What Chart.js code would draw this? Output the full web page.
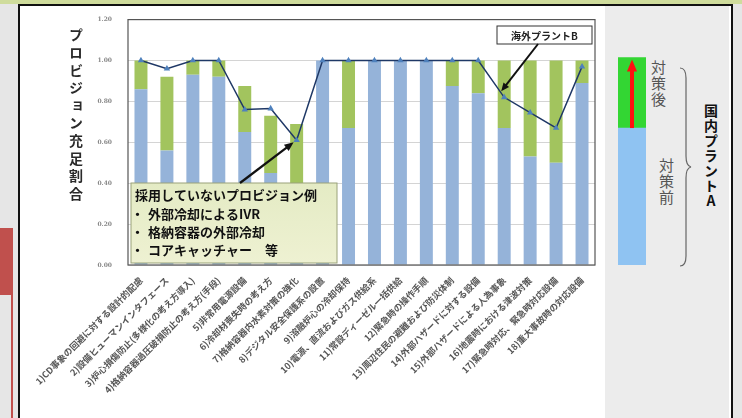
<!DOCTYPE html>
<html>
<head>
<meta charset="utf-8">
<script src="https://cdn.jsdelivr.net/npm/chart.js@4.4.1/dist/chart.umd.min.js"></script>
<style>
  body { margin: 0; width: 742px; height: 418px; background: #e6e6e6; position: relative; overflow: hidden;
         font-family: "Noto Sans CJK JP", "Noto Sans", sans-serif; }
  .abs { position: absolute; }
  #topstrip { left: 0; top: 0; width: 742px; height: 4px; background: #cfdc9c; }
  #frame { left: 18px; top: 4px; width: 711px; height: 420px; border: 2px solid #111; background: #fff; }
  #rightpanel { left: 605px; top: 6px; width: 124px; height: 412px; background: #ececec; }
  #redblock { left: 0; top: 228px; width: 13px; height: 67px; background: #c0504d; }
  #redline { left: 11px; top: 295px; width: 2px; height: 123px; background: #c0504d; }
  .vtext { position: absolute; writing-mode: vertical-rl; text-orientation: upright; white-space: nowrap; }
  #ytitle { left: 66px; top: 28px; font-size: 14px; font-weight: bold; color: #2a2a2a; letter-spacing: 3.6px; }
  #after { left: 648px; top: 60px; font-size: 15px; color: #555; letter-spacing: 1px; }
  #before { left: 656px; top: 158px; font-size: 15px; color: #555; letter-spacing: 1px; }
  #plantA { left: 701px; top: 104px; font-size: 14px; font-weight: bold; color: #111; letter-spacing: 1px; }
</style>
</head>
<body>
<div id="topstrip" class="abs"></div>
<div id="frame" class="abs"></div>
<div id="rightpanel" class="abs"></div>
<div id="redblock" class="abs"></div>
<div id="redline" class="abs"></div>

<canvas id="mainChart" class="abs" width="605" height="418" style="left:0;top:0;"></canvas>
<canvas id="legendChart" class="abs" width="28" height="418" style="left:618px;top:0;"></canvas>

<div id="ytitle" class="vtext">プロビジョン充足割合</div>
<div id="after" class="vtext">対策後</div>
<div id="before" class="vtext">対策前</div>
<div id="plantA" class="vtext">国内プラントA</div>
<svg class="abs" style="left:676px;top:60px;" width="20" height="210">
  <path d="M4 8 Q10 8 10 18 L10 96 Q10 106 15 107 Q10 108 10 118 L10 196 Q10 206 4 206" fill="none" stroke="#666" stroke-width="1.2"/>
</svg>

<script>
// 項目(18項目)
const categories = [
  '1)CD事象の回避に対する設計的配慮',
  '2)設備ヒューマンインタフェース',
  '3)炉心損傷防止(多様化の考え方導入)',
  '4)格納容器過圧破損防止の考え方(手段)',
  '5)非常用電源設備',
  '6)冷却材喪失時の考え方',
  '7)格納容器内水素対策の強化',
  '8)デジタル安全保護系の設置',
  '9)溶融炉心の冷却保持',
  '10)電源、直流およびガス供給系',
  '11)常設ディーゼル一括供給',
  '12)緊急時の操作手順',
  '13)周辺住民の避難および防災体制',
  '14)外部ハザードに対する設備',
  '15)外部ハザードによる人為事象',
  '16)地震時における津波対策',
  '17)緊急時対応、緊急時対応設備',
  '18)重大事故時の対応設備'
];

// 国内プラントA 対策前 / 対策による上積み
const plantABefore = [0.86, 0.56, 0.93, 0.92, 0.65, 0.45, 0.30, 1.00, 0.67, 1.00, 1.00, 1.00, 0.875, 0.84, 0.67, 0.53, 0.50, 0.89];
const plantAGain   = [0.14, 0.36, 0.07, 0.08, 0.225, 0.28, 0.39, 0.00, 0.33, 0.00, 0.00, 0.00, 0.125, 0.16, 0.33, 0.47, 0.50, 0.11];

// 海外プラントB
const plantB = [1.00, 0.96, 1.00, 1.00, 0.76, 0.765, 0.61, 1.00, 1.00, 1.00, 1.00, 1.00, 1.00, 1.00, 0.82, 0.745, 0.67, 0.97];

const yTicks = [0, 0.2, 0.4, 0.6, 0.8, 1.0, 1.2];

// 凡例用の棒
const legendBefore = [0.66];
const legendGain = [0.34];

const JP = '"Noto Sans CJK JP", "Noto Sans", sans-serif';

function drawArrow(ctx, x1, y1, x2, y2, color, width, head) {
    const ang = Math.atan2(y2 - y1, x2 - x1);
    ctx.save();
    ctx.strokeStyle = color;
    ctx.fillStyle = color;
    ctx.lineWidth = width;
    ctx.beginPath();
    ctx.moveTo(x1, y1);
    ctx.lineTo(x2 - Math.cos(ang) * head * 0.8, y2 - Math.sin(ang) * head * 0.8);
    ctx.stroke();
    ctx.beginPath();
    ctx.moveTo(x2, y2);
    ctx.lineTo(x2 - head * Math.cos(ang - 0.4), y2 - head * Math.sin(ang - 0.4));
    ctx.lineTo(x2 - head * Math.cos(ang + 0.4), y2 - head * Math.sin(ang + 0.4));
    ctx.closePath();
    ctx.fill();
    ctx.restore();
}

const annotations = {
    id: 'annotations',
    afterDatasetsDraw(chart) {
        const ctx = chart.ctx;
        const a = chart.chartArea;
        const xs = chart.scales.x, ys = chart.scales.y;

        // 枠線
        ctx.save();
        ctx.strokeStyle = '#555';
        ctx.lineWidth = 1.2;
        ctx.strokeRect(a.left, a.top, a.right - a.left, a.bottom - a.top);
        ctx.restore();

        // 採用していないプロビジョン例
        const bx = a.left + 3, by = 183, bw = 206, bh = 80;
        ctx.save();
        const g = ctx.createLinearGradient(0, by, 0, by + bh);
        g.addColorStop(0, '#e4ebc4');
        g.addColorStop(1, '#eef1d2');
        ctx.fillStyle = g;
        ctx.fillRect(bx, by, bw, bh);
        ctx.strokeStyle = '#9aa27a';
        ctx.lineWidth = 1;
        ctx.strokeRect(bx, by, bw, bh);
        ctx.fillStyle = '#111';
        ctx.font = 'bold 13px ' + JP;
        ctx.textBaseline = 'middle';
        ctx.fillText('採用していないプロビジョン例', bx + 4, by + 12);
        ctx.fillText('・', bx + 0, by + 31);
        ctx.fillText('外部冷却によるIVR', bx + 17, by + 31);
        ctx.fillText('・', bx + 0, by + 49);
        ctx.fillText('格納容器の外部冷却', bx + 17, by + 49);
        ctx.fillText('・', bx + 0, by + 67);
        ctx.fillText('コアキャッチャー　等', bx + 17, by + 67);
        ctx.restore();
        drawArrow(ctx, 240, by, xs.getPixelForValue(6) - 3, ys.getPixelForValue(plantB[6]) + 2, '#111', 2.2, 10);

        // 海外プラントB
        const lx = 497, ly = 26, lw = 95, lh = 18;
        ctx.save();
        ctx.fillStyle = '#fff';
        ctx.fillRect(lx, ly, lw, lh);
        ctx.strokeStyle = '#333';
        ctx.lineWidth = 1;
        ctx.strokeRect(lx, ly, lw, lh);
        ctx.fillStyle = '#222';
        ctx.font = 'bold 10px ' + JP;
        ctx.textAlign = 'center';
        ctx.textBaseline = 'middle';
        ctx.fillText('海外プラントB', lx + lw / 2, ly + lh / 2 + 1);
        ctx.restore();
        drawArrow(ctx, 538, ly + lh, xs.getPixelForValue(14) - 3, ys.getPixelForValue(plantB[14]) - 6, '#111', 2, 9);
    }
};

document.addEventListener('DOMContentLoaded', function() {
    const ctx = document.getElementById('mainChart').getContext('2d');
    new Chart(ctx, {
        type: 'bar',
        data: {
            labels: categories,
            datasets: [
                {
                    type: 'line',
                    label: '海外プラントB',
                    data: plantB,
                    borderColor: '#1f3866',
                    borderWidth: 1.5,
                    tension: 0,
                    pointStyle: 'triangle',
                    pointRadius: 2.2,
                    pointBackgroundColor: '#4f81bd',
                    pointBorderColor: '#4f81bd',
                    order: 0
                },
                {
                    label: '対策前',
                    data: plantABefore,
                    backgroundColor: '#95b3d9',
                    stack: 'a',
                    order: 1
                },
                {
                    label: '対策後',
                    data: plantAGain,
                    backgroundColor: '#a2c45e',
                    stack: 'a',
                    order: 1
                }
            ]
        },
        options: {
            responsive: false,
            animation: false,
            layout: { padding: { left: 0, right: 10, top: 16, bottom: 0 } },
            categoryPercentage: 0.5,
            barPercentage: 1.0,
            plugins: { legend: { display: false }, tooltip: { enabled: false } },
            scales: {
                x: {
                    stacked: true,
                    grid: { display: false },
                    border: { display: false },
                    ticks: {
                        autoSkip: false,
                        minRotation: 45,
                        maxRotation: 45,
                        padding: 2,
                        color: '#555',
                        font: { family: JP, size: 9, weight: 'bold' }
                    },
                    afterFit: function(scale) { scale.height = 153; }
                },
                y: {
                    stacked: true,
                    min: 0,
                    max: 1.2,
                    afterBuildTicks: function(scale) { scale.ticks = yTicks.map(v => ({ value: v })); },
                    grid: { color: '#d4d4d4', drawTicks: false },
                    border: { display: false },
                    ticks: {
                        padding: 16,
                        color: '#888',
                        font: { family: 'DejaVu Serif', size: 6, weight: 'bold' },
                        callback: v => v.toFixed(2)
                    },
                    afterFit: function(scale) { scale.width = 128; }
                }
            }
        },
        plugins: [annotations]
    });

    // 凡例の棒(国内プラントA)
    const redArrow = {
        id: 'redArrow',
        afterDatasetsDraw(chart) {
            const ys = chart.scales.y, xs = chart.scales.x;
            const x = xs.getPixelForValue(0);
            drawArrow(chart.ctx, x, ys.getPixelForValue(legendBefore[0]), x, ys.getPixelForValue(1.0) + 2, '#ff1010', 4, 13);
        }
    };
    new Chart(document.getElementById('legendChart').getContext('2d'), {
        type: 'bar',
        data: {
            labels: ['国内プラントA'],
            datasets: [
                { label: '対策前', data: legendBefore, backgroundColor: '#8fc3f2', stack: 'a' },
                { label: '対策後', data: legendGain, backgroundColor: '#33d633', stack: 'a' }
            ]
        },
        options: {
            responsive: false,
            animation: false,
            layout: { padding: { left: 0, right: 0, top: 16, bottom: 153 } },
            categoryPercentage: 1,
            barPercentage: 1,
            plugins: { legend: { display: false }, tooltip: { enabled: false } },
            scales: {
                x: { stacked: true, display: false },
                y: { stacked: true, display: false, min: 0, max: 1.2 }
            }
        },
        plugins: [redArrow]
    });
});
</script>
</body>
</html>
